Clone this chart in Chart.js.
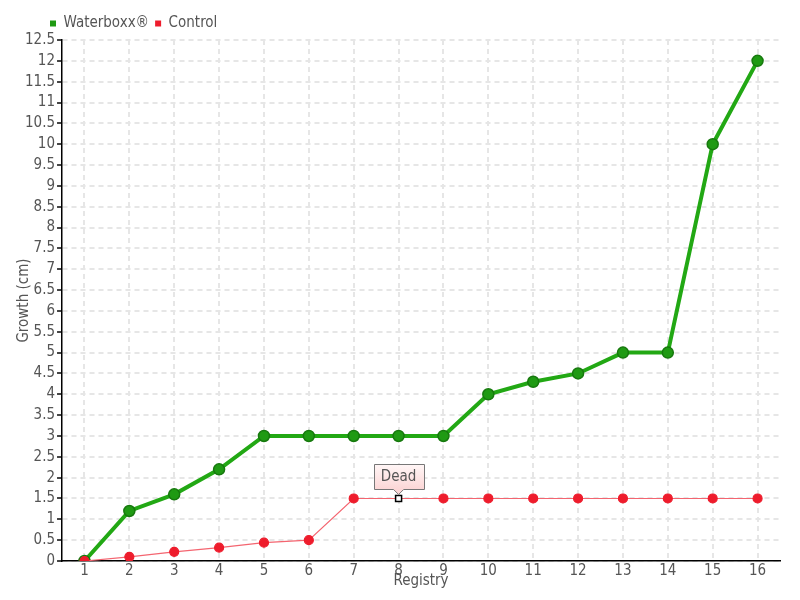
<!DOCTYPE html>
<html><head><meta charset="utf-8">
<script src="https://cdn.jsdelivr.net/npm/chart.js@4/dist/chart.umd.min.js"></script>
<style>html,body{margin:0;padding:0;background:#fff}#wrap{width:800px;height:600px}</style>
</head><body><div id="wrap"><canvas id="c" width="800" height="600"></canvas></div>
<script>
const categories = ["1","2","3","4","5","6","7","8","9","10","11","12","13","14","15","16"];
const waterboxx = [0,1.2,1.6,2.2,3,3,3,3,3,4,4.3,4.5,5,5,10,12];
const control = [0,0.1,0.22,0.32,0.44,0.5,1.5,1.5,1.5,1.5,1.5,1.5,1.5,1.5,1.5,1.5];
const notes = [{index:7, text:"Dead"}];
const yTitle = "Growth (cm)";
const xTitle = "Registry";

const FONT = "'Liberation Sans Narrow', 'DejaVu Sans Condensed', sans-serif";
const isNote = i => notes.some(n => n.index === i);

const notePlugin = {
  id:'notes',
  afterDatasetsDraw(chart){
    const ctx = chart.ctx;
    const meta = chart.getDatasetMeta(1);
    notes.forEach(n=>{
      const el = meta.data[n.index];
      const x = el.x, y = el.y;
      ctx.save();
      ctx.fillStyle='#fff'; ctx.strokeStyle='#000'; ctx.lineWidth=1.5;
      ctx.fillRect(x-3,y-3,6,6); ctx.strokeRect(x-3,y-3,6,6);
      ctx.font = "15px "+FONT;
      const w = 50, h = 25;
      const bx = Math.round(x - 25)+0.5, by = Math.round(y - 34)+0.5;
      const g = ctx.createLinearGradient(0,by,0,by+h);
      g.addColorStop(0,'#fff6f6'); g.addColorStop(1,'#fcd6d6');
      ctx.beginPath();
      ctx.moveTo(bx,by); ctx.lineTo(bx+w,by); ctx.lineTo(bx+w,by+h);
      ctx.lineTo(x+5,by+h); ctx.lineTo(x,by+h+5); ctx.lineTo(x-5,by+h);
      ctx.lineTo(bx,by+h); ctx.closePath();
      ctx.fillStyle=g; ctx.fill();
      ctx.strokeStyle='#777'; ctx.lineWidth=1; ctx.stroke();
      ctx.fillStyle='#555'; ctx.textAlign='center'; ctx.textBaseline='middle';
      ctx.fillText(n.text, x, by+h/2);
      ctx.restore();
    });
    const ca = chart.chartArea;
    ctx.save();
    ctx.font = "15px "+FONT;
    ctx.fillStyle = '#555';
    ctx.translate(24, (ca.top+ca.bottom)/2);
    ctx.rotate(-Math.PI/2);
    ctx.textAlign='center'; ctx.textBaseline='middle';
    ctx.fillText(yTitle, 0, 0);
    ctx.restore();
  }
};

const legendShift = {
  id:'legendShift',
  afterLayout(chart){
    chart.legend.left += 21;
    chart.legend.right += 21;
    chart.legend.top += 1;
    chart.legend.bottom += 1;
  }
};

new Chart(document.getElementById('c'), {
  type:'line',
  data:{
    labels:categories,
    datasets:[
      {label:'Waterboxx®', data:waterboxx, borderColor:'#22a814', backgroundColor:'#1f9a13',
       pointBorderColor:'#17790e', pointBorderWidth:1.5, borderWidth:4, pointRadius:5.5, pointHoverRadius:5.5, tension:0, order:2},
      {label:'Control', data:control, borderColor:'#f46570', backgroundColor:'#ee1c2c',
       pointBorderColor:'#ee1c2c', borderWidth:1.2,
       pointRadius: c => isNote(c.dataIndex) ? 0 : 4.5, pointHoverRadius:4.5, tension:0, order:1}
    ]
  },
  options:{
    responsive:false, animation:false,
    layout:{padding:{left:23,right:20,top:9,bottom:10}},
    plugins:{
      legend:{position:'top', align:'start',
        labels:{boxWidth:6, boxHeight:6, color:'#555', font:{family:FONT,size:15}, padding:6,
          generateLabels(chart){
            return chart.data.datasets.map((d,i)=>({text:d.label, fillStyle:d.backgroundColor, strokeStyle:d.backgroundColor, lineWidth:0, datasetIndex:i, fontColor:'#555'}));
          }}},
      tooltip:{enabled:false}
    },
    scales:{
      x:{type:'category', offset:true,
        grid:{offset:false, color:'#e6e6e6', lineWidth:2, drawTicks:true, tickLength:3, tickColor:'rgba(0,0,0,0)', tickBorderDash:[]},
        border:{display:true, color:'#000', width:1.5, dash:[5,4]},
        ticks:{color:'#555', font:{family:FONT,size:15}, padding:-2, maxRotation:0, autoSkip:false},
        title:{display:true, text:xTitle, color:'#555', font:{family:FONT,size:15}, padding:{top:-6,bottom:0}}
      },
      y:{min:0, max:12.5,
        grid:{color:'#e6e6e6', lineWidth:2, tickLength:5, tickColor:'#444', tickBorderDash:[]},
        border:{display:true, color:'#000', width:1.5, dash:[5,4]},
        ticks:{stepSize:0.5, color:'#555', font:{family:FONT,size:15}, padding:2, autoSkip:false, callback:v=>String(v)},
        title:{display:false}
      }
    }
  },
  plugins:[notePlugin, legendShift]
});
</script></body></html>
